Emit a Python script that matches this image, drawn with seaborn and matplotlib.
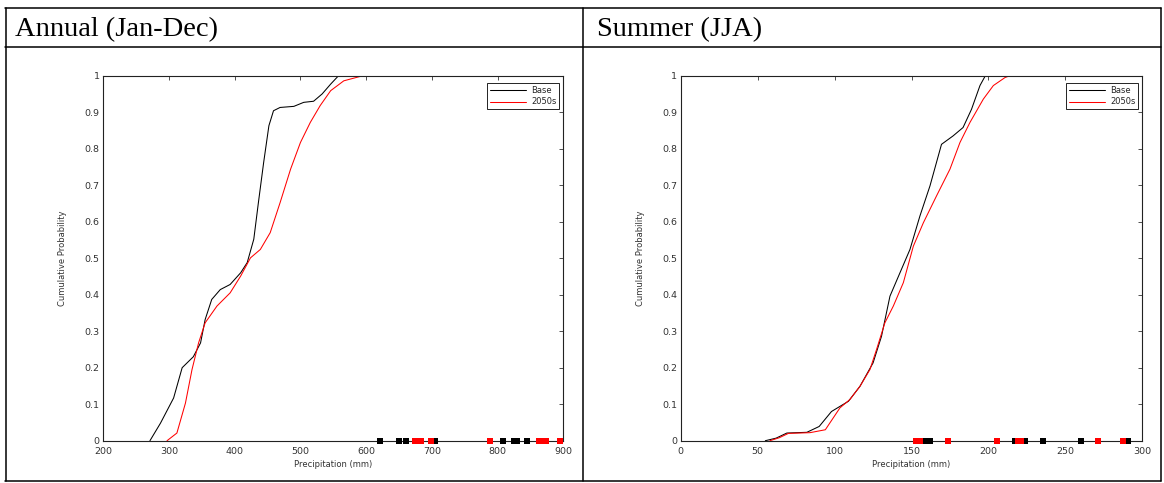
import numpy as np
import pandas as pd
import matplotlib
matplotlib.use("Agg")
import matplotlib.pyplot as plt
import seaborn as sns
from matplotlib.lines import Line2D

# ---------------- data ----------------
panel_titles = ["Annual (Jan-Dec)", "Summer (JJA)"]
series_names = ["Base", "2050s"]

annual_base_x = [271, 287, 307, 320, 337, 348, 355, 365, 378, 393, 409, 419, 429, 436,
                 444, 452, 459, 469, 490, 505, 520, 533, 546, 558]
annual_base_p = [0, 0.048, 0.117, 0.2, 0.23, 0.268, 0.332, 0.387, 0.414, 0.428, 0.46, 0.488,
                 0.552, 0.652, 0.762, 0.863, 0.904, 0.913, 0.916, 0.927, 0.93, 0.95, 0.977, 1.0]
annual_fut_x = [297, 312, 325, 335, 345, 355, 373, 393, 409, 424, 439, 454, 469, 485, 500,
                515, 530, 546, 566, 591, 601]
annual_fut_p = [0, 0.021, 0.103, 0.195, 0.268, 0.323, 0.369, 0.405, 0.451, 0.501, 0.524,
                0.57, 0.652, 0.744, 0.817, 0.872, 0.918, 0.959, 0.986, 0.998, 1.0]

summer_base_x = [55, 62, 69, 82, 90, 98, 109, 116.5, 125, 130.5, 136, 142.5, 149, 155.5,
                 162, 169.5, 177, 183.5, 189, 194.5, 198]
summer_base_p = [0, 0.007, 0.021, 0.023, 0.039, 0.08, 0.108, 0.149, 0.213, 0.286, 0.396,
                 0.46, 0.524, 0.616, 0.698, 0.812, 0.835, 0.858, 0.908, 0.973, 1.0]
summer_fut_x = [58, 64, 70, 84, 94, 103.5, 110, 116.5, 123, 127.3, 132.7, 138.2, 144.7,
                151.2, 157.7, 166.3, 175, 181.5, 188, 196.7, 203.2, 210.8, 214]
summer_fut_p = [0, 0.008, 0.02, 0.022, 0.03, 0.09, 0.113, 0.149, 0.195, 0.25, 0.323, 0.369,
                0.433, 0.533, 0.597, 0.671, 0.744, 0.817, 0.872, 0.936, 0.973, 0.995, 1.0]

annual_base_pts = [621, 650, 660, 705, 808, 825, 830, 844]
annual_fut_pts = [674, 684, 698, 788, 863, 869, 874, 895]
summer_base_pts = [157.3, 161, 162, 217.3, 223.8, 235.3, 260.2, 290.9]
summer_fut_pts = [152.9, 155.5, 173.9, 205.3, 219.4, 221, 271.4, 287.7]

annual_xticks = [200, 300, 400, 500, 600, 700, 800, 900]
summer_xticks = [0, 50, 100, 150, 200, 250, 300]
yticks = [0, 0.1, 0.2, 0.3, 0.4, 0.5, 0.6, 0.7, 0.8, 0.9, 1]
ytick_labels = ["0", "0.1", "0.2", "0.3", "0.4", "0.5", "0.6", "0.7", "0.8", "0.9", "1"]

# ---------------- style ----------------
sns.set_theme(style="white")
plt.rcParams["font.family"] = ["DejaVu Sans"]

W, H = 1164, 483
fig = plt.figure(figsize=(W / 100, H / 100), dpi=100)
fig.patch.set_facecolor("white")

colors = {"Base": "black", "2050s": "red"}


def px_axes(left, top, right, bottom):
    return fig.add_axes([left / W, 1 - bottom / H, (right - left) / W, (bottom - top) / H])


ax1 = px_axes(103.3, 75.7, 563.3, 440.7)
ax2 = px_axes(680.7, 75.7, 1142.3, 440.7)

panels = [
    (ax1, annual_base_x, annual_base_p, annual_fut_x, annual_fut_p,
     annual_base_pts, annual_fut_pts, annual_xticks),
    (ax2, summer_base_x, summer_base_p, summer_fut_x, summer_fut_p,
     summer_base_pts, summer_fut_pts, summer_xticks),
]

for ax, bx, bp, fx, fp, bpts, fpts, xt in panels:
    ax.set_facecolor("white")
    df_b = pd.DataFrame({"x": bx, "p": bp})
    df_f = pd.DataFrame({"x": fx, "p": fp})
    sns.lineplot(data=df_b, x="x", y="p", color=colors["Base"], lw=0.75, ax=ax,
                 estimator=None, sort=False, label="Base")
    sns.lineplot(data=df_f, x="x", y="p", color=colors["2050s"], lw=0.75, ax=ax,
                 estimator=None, sort=False, label="2050s")
    pts_b = pd.DataFrame({"x": bpts, "y": [0.0] * len(bpts)})
    pts_f = pd.DataFrame({"x": fpts, "y": [0.0] * len(fpts)})
    sns.scatterplot(data=pts_b, x="x", y="y", color="black", marker="s", s=18,
                    linewidth=0, ax=ax, legend=False, clip_on=False, zorder=5)
    sns.scatterplot(data=pts_f, x="x", y="y", color="red", marker="s", s=18,
                    linewidth=0, ax=ax, legend=False, clip_on=False, zorder=5)

    ax.set_xlim(xt[0], xt[-1])
    ax.set_ylim(0, 1)
    ax.set_xticks(xt)
    ax.set_xticklabels([str(v) for v in xt])
    ax.set_yticks(yticks)
    ax.set_yticklabels(ytick_labels)
    ax.tick_params(direction="in", length=3, width=0.6, top=True, right=True,
                   labelsize=6.8, labelcolor="#333333", color="#333333")
    ax.tick_params(axis="y", pad=2.5)
    ax.tick_params(axis="x", pad=4.5)
    for s in ax.spines.values():
        s.set_visible(True)
        s.set_color("#222222")
        s.set_linewidth(0.8)
    ax.set_xlabel("Precipitation (mm)", fontsize=6, color="#333333")
    ax.set_ylabel("Cumulative Probability", fontsize=6, color="#333333")
    ax.xaxis.set_label_coords(0.5, -0.052)
    ax.yaxis.set_label_coords(-0.078, 0.5)
    ax.grid(False)

    handles = [Line2D([], [], color=colors[n], lw=0.75) for n in series_names]
    leg = ax.legend(handles, series_names, loc="upper right", bbox_to_anchor=(0.9913, 0.981),
                    borderaxespad=0, fontsize=6, handlelength=4.3, handletextpad=0.6,
                    labelspacing=0.35, borderpad=0.35, fancybox=False, edgecolor="black",
                    framealpha=1)
    leg.get_frame().set_linewidth(0.6)

# ---------------- table frame ----------------
def hline(y, x0, x1, lw=1.1):
    fig.add_artist(Line2D([x0 / W, x1 / W], [1 - y / H, 1 - y / H], color="black",
                          lw=lw, transform=fig.transFigure))


def vline(x, y0, y1, lw=1.1):
    fig.add_artist(Line2D([x / W, x / W], [1 - y0 / H, 1 - y1 / H], color="black",
                          lw=lw, transform=fig.transFigure))


hline(8, 5, 1161)
hline(47, 5, 1161)
hline(481, 5, 1161)
vline(5.5, 8, 481)
vline(583, 8, 481)
vline(1160.5, 8, 481)

fig.text(15 / W, 1 - 36 / H, panel_titles[0], family="Liberation Serif", fontsize=20.5,
         va="baseline", ha="left", color="black")
fig.text(597 / W, 1 - 36 / H, panel_titles[1], family="Liberation Serif", fontsize=20.5,
         va="baseline", ha="left", color="black")

fig.savefig("out.png", dpi=100, facecolor="white")
